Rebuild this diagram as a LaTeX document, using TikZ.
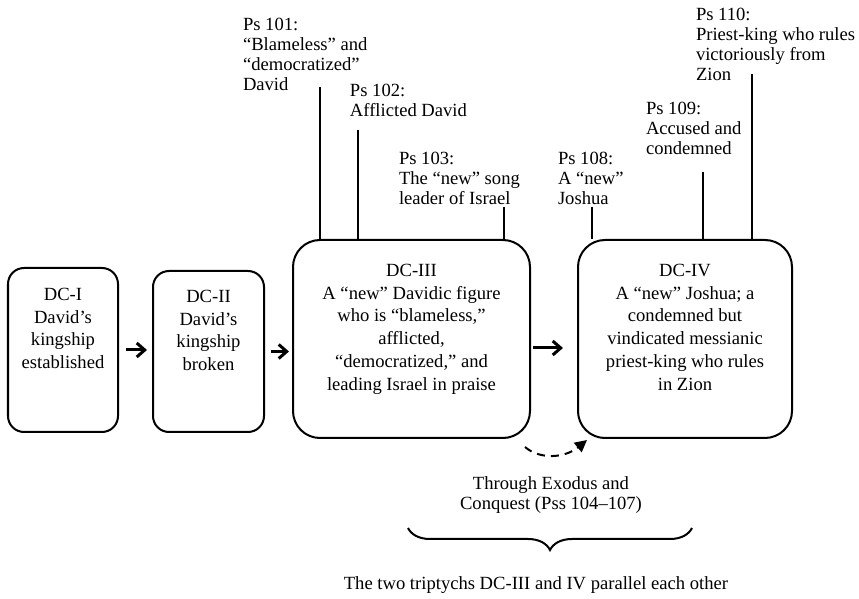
\documentclass[tikz,border=0pt]{standalone}
\usepackage{fontspec}
\setmainfont{Liberation Serif}
\usetikzlibrary{arrows.meta,decorations.pathreplacing}

\begin{document}
\begin{tikzpicture}[
    x=0.5pt, y=-0.5pt,
    dcbox/.style={draw, line width=1pt, rounded corners=#1, inner sep=0pt},
    dcbox/.default=13.5pt,
    boxtext/.style={align=center, inner sep=0pt, anchor=north, font=\fontsize{9.3}{11.4}\selectfont},
    pslabel/.style={align=left, inner sep=0pt, anchor=north west, font=\fontsize{9.3}{10}\selectfont},
    flow/.style={-{Straight Barb[length=4pt,width=7pt]}, line width=1.5pt},
    line width=1pt
]

    \useasboundingbox (0,0) rectangle (859,599);

    % Boxes
    \node[dcbox=8pt, minimum width=55pt,   minimum height=82pt]   (dc1) at (63,350)    {};
    \node[dcbox=8pt, minimum width=55.5pt, minimum height=80.5pt] (dc2) at (208.5,351.5) {};
    \node[dcbox, minimum width=118.5pt, minimum height=99pt] (dc3) at (411.5,339) {};
    \node[dcbox, minimum width=107pt,   minimum height=99pt] (dc4) at (685,339)   {};

    \node[boxtext] (dc1text) at (63,287)    {DC-I\\David’s\\kingship\\established};
    \node[boxtext] (dc2text) at (208.5,289) {DC-II\\David’s\\kingship\\broken};
    \node[boxtext] (dc3text) at (411.5,263) {DC-III\\A “new” Davidic figure\\who is “blameless,”\\afflicted,\\“democratized,” and\\leading Israel in praise};
    \node[boxtext] (dc4text) at (685,263)   {DC-IV\\A “new” Joshua; a\\condemned but\\vindicated messianic\\priest-king who rules\\in Zion};

    % Arrows between boxes
    \draw[flow, shorten <=3.5pt, shorten >=2.5pt] (dc1.east) -- (dc1.east -| dc2.west);
    \draw[flow, shorten <=3pt, shorten >=1.5pt] (dc2.east) -- (dc2.east -| dc3.west);
    \draw[flow, shorten <=1pt, shorten >=7pt] ([yshift=-4.5pt]dc3.east) -- ([yshift=-4.5pt]dc4.west);

    % Psalm labels
    \node[pslabel] (ps101) at (242,17)  {Ps 101:\\“Blameless” and\\“democratized”\\David};
    \node[pslabel] (ps102) at (349,83)  {Ps 102:\\Afflicted David};
    \node[pslabel] (ps103) at (398,151) {Ps 103:\\The “new” song\\leader of Israel};
    \node[pslabel] (ps108) at (557,151) {Ps 108:\\A “new”\\Joshua};
    \node[pslabel] (ps109) at (645,101) {Ps 109:\\Accused and\\condemned};
    \node[pslabel] (ps110) at (695,7)   {Ps 110:\\Priest-king who rules\\victoriously from\\Zion};

    % Label lines
    \coordinate (ps101foot) at (320,87);
    \coordinate (ps102foot) at (358,130);
    \coordinate (ps103foot) at (504,207);
    \coordinate (ps108foot) at (592,207);
    \coordinate (ps109foot) at (703,172);
    \coordinate (ps110foot) at (752,74);

    \draw (ps101foot) -- (ps101foot |- dc3.north);
    \draw (ps102foot) -- (ps102foot |- dc3.north);
    \draw (ps103foot) -- (ps103foot |- dc3.north);
    \draw (ps108foot) -- (ps108foot |- dc4.north);
    \draw (ps109foot) -- (ps109foot |- dc4.north);
    \draw (ps110foot) -- (ps110foot |- dc4.north);

    % Exodus link
    \coordinate (exodusfrom) at (525,447);
    \coordinate (exodusto)   at (587,440);
    \draw[dashed, dash pattern=on 4pt off 3pt, -{Triangle[length=6pt,width=6pt]}]
        (exodusfrom) .. controls (540,460) and (565,458) .. (exodusto);
    \node[align=center, inner sep=0pt, font=\fontsize{9.3}{10}\selectfont] (exodus) at (551,495)
        {Through Exodus and\\Conquest (Pss 104–107)};

    % Brace
    \coordinate (braceleft)  at (408,528);
    \coordinate (braceright) at (692,528);
    \draw[decorate, decoration={brace, mirror, amplitude=11pt}] (braceleft) -- (braceright);
    \node[inner sep=0pt, font=\fontsize{9.3}{10}\selectfont] (parallel) at (536,585)
        {The two triptychs DC-III and IV parallel each other};

\end{tikzpicture}
\end{document}
